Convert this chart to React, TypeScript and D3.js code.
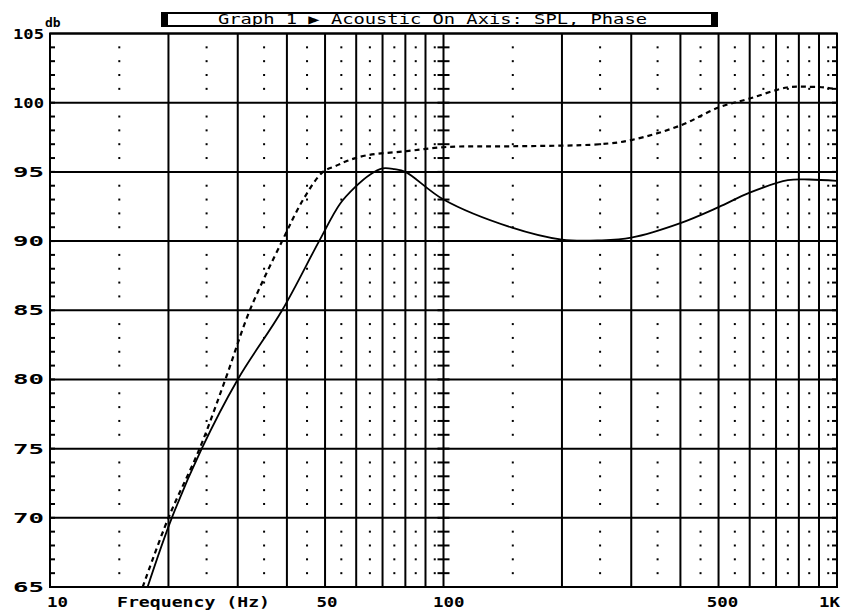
import React from "react";
import * as d3 from "d3";

// ---- data ----
const TITLE = "Graph 1 \u25B6 Acoustic On Axis: SPL, Phase";
const Y_UNIT = "db";
const X_TITLE = "Frequency (Hz)";
const X_TICKS = [10, 50, 100, 500, 1000];
const X_TICK_LABELS = ["10", "50", "100", "500", "1K"];
const Y_TICKS = [65, 70, 75, 80, 85, 90, 95, 100, 105];
const MAJOR_FREQS = [20, 30, 40, 50, 60, 70, 80, 90, 100, 200, 300, 400, 500, 600, 700, 800, 900];
const DOT_FREQS = [15, 25, 35, 45, 55, 65, 75, 85, 95, 150, 250, 350, 450, 550, 650, 750, 850, 950];

// SPL (solid)
const SOLID_FREQ = [17.7, 20.4, 24.3, 30.0, 38.9, 48.3, 54.6, 59.6, 65, 70, 75, 80, 100, 148, 200, 250, 300, 400, 500, 600, 750, 850, 1000];
const SOLID_DB = [65, 70, 75, 80, 85, 90, 92.7, 93.9, 94.8, 95.25, 95.2, 95.0, 93.0, 91.0, 90.1, 90.05, 90.25, 91.3, 92.45, 93.5, 94.4, 94.45, 94.35];

// dashed
const DASH_FREQ = [17.2, 20.0, 24.0, 27.9, 32.2, 38.9, 44, 49.4, 53, 57, 63.9, 80.7, 101.9, 150, 250, 300, 400, 500, 600, 746, 850, 935, 1000];
const DASH_DB = [65, 70, 75, 80, 85, 90, 93, 95, 95.4, 95.8, 96.2, 96.5, 96.8, 96.85, 97.0, 97.3, 98.35, 99.65, 100.3, 101.1, 101.15, 101.1, 100.95];

// ---- layout ----
const W = 841, H = 610;
const X0 = 50, X1 = 837, Y0 = 33.5, Y1 = 587;
const MONO = "'DejaVu Sans Mono', 'Liberation Mono', monospace";

export default function App() {
  const x = d3.scaleLog().domain([10, 1000]).range([X0, X1]);
  const y = d3.scaleLinear().domain([65, 105]).range([Y1, Y0]);

  const dbInts = d3.range(66, 105).filter((d) => d % 5 !== 0);
  const allInts = d3.range(66, 105);

  const line = d3
    .line<[number, number]>()
    .x((d) => x(d[0]))
    .y((d) => y(d[1]))
    .curve(d3.curveCatmullRom.alpha(0.5));

  const solid = SOLID_FREQ.map((f, i) => [f, SOLID_DB[i]] as [number, number]);
  const dashed = DASH_FREQ.map((f, i) => [f, DASH_DB[i]] as [number, number]);

  return (
    <svg
      width={W}
      height={H}
      style={{ position: "absolute", left: 0, top: 0, background: "#fff" }}
    >
      <rect x={0} y={0} width={W} height={H} fill="#fff" />
      <defs>
        <clipPath id="plot">
          <rect x={X0} y={Y0} width={X1 - X0} height={Y1 - Y0} />
        </clipPath>
      </defs>

      {/* dotted columns */}
      {DOT_FREQS.map((f) =>
        dbInts.map((d) => (
          <rect key={`dot${f}-${d}`} x={x(f) - 1} y={y(d) - 1} width={2} height={2} fill="#000" />
        ))
      )}

      {/* horizontal grid */}
      {Y_TICKS.map((d) => (
        <line key={`h${d}`} x1={X0} x2={X1} y1={y(d)} y2={y(d)} stroke="#000" strokeWidth={2} />
      ))}
      {/* vertical grid */}
      {MAJOR_FREQS.map((f) => (
        <line key={`v${f}`} x1={x(f)} x2={x(f)} y1={Y0} y2={Y1} stroke="#000" strokeWidth={2} />
      ))}

      {/* ticks on left border, 100 Hz line, right border */}
      {allInts.map((d) => (
        <g key={`t${d}`}>
          <line x1={X0} x2={X0 + 5} y1={y(d)} y2={y(d)} stroke="#000" strokeWidth={2} />
          <line x1={x(100) - 6} x2={x(100) + 6} y1={y(d)} y2={y(d)} stroke="#000" strokeWidth={2} />
          <line x1={X1 - 5} x2={X1} y1={y(d)} y2={y(d)} stroke="#000" strokeWidth={2} />
        </g>
      ))}

      {/* frame */}
      <rect x={X0} y={Y0} width={X1 - X0} height={Y1 - Y0} fill="none" stroke="#000" strokeWidth={2} />

      {/* curves */}
      <g clipPath="url(#plot)">
        <path d={line(dashed) || ""} fill="none" stroke="#000" strokeWidth={2.2} strokeDasharray="5,4" />
        <path d={line(solid) || ""} fill="none" stroke="#000" strokeWidth={1.8} />
      </g>

      {/* y tick labels */}
      {Y_TICKS.map((d) => (
        <text
          key={`yl${d}`}
          x={44}
          y={y(d) + 5}
          textAnchor="end"
          fontFamily={MONO}
          fontWeight="bold"
          fontSize={14}
          textLength={31}
          lengthAdjust="spacingAndGlyphs"
          fill="#000"
        >
          {d}
        </text>
      ))}
      <text x={45} y={27} fontFamily={MONO} fontWeight="bold" fontSize={13} fill="#000">
        {Y_UNIT}
      </text>

      {/* x tick labels */}
      {X_TICKS.map((f, i) => {
        const lbl = X_TICK_LABELS[i];
        const w = lbl.length * 10.5;
        const cx = x(f);
        let anchor: "start" | "middle" | "end" = "middle";
        let px = cx;
        if (i === 0) { anchor = "start"; px = 47; }
        else if (i === X_TICKS.length - 1) { anchor = "start"; px = 819; }
        else if (f === 100) { anchor = "start"; px = 433; }
        else if (f === 500) { px = cx + 4; }
        else if (f === 50) { px = cx + 2; }
        return (
          <text
            key={`xl${f}`}
            x={px}
            y={607}
            textAnchor={anchor}
            fontFamily={MONO}
            fontWeight="bold"
            fontSize={14}
            textLength={w}
            lengthAdjust="spacingAndGlyphs"
            fill="#000"
          >
            {lbl}
          </text>
        );
      })}
      <text
        x={117}
        y={607}
        fontFamily={MONO}
        fontWeight="bold"
        fontSize={14}
        textLength={153}
        lengthAdjust="spacingAndGlyphs"
        fill="#000"
      >
        {X_TITLE}
      </text>

      {/* title box */}
      <rect x={162} y={13} width={555} height={13} fill="#fff" stroke="#000" strokeWidth={2} />
      <rect x={162} y={13} width={6} height={13} fill="#000" />
      <rect x={711} y={13} width={6} height={13} fill="#000" />
      <text
        x={218}
        y={24}
        fontFamily={MONO}
        fontSize={14}
        textLength={429}
        lengthAdjust="spacingAndGlyphs"
        fill="#000"
      >
        {TITLE}
      </text>
    </svg>
  );
}
